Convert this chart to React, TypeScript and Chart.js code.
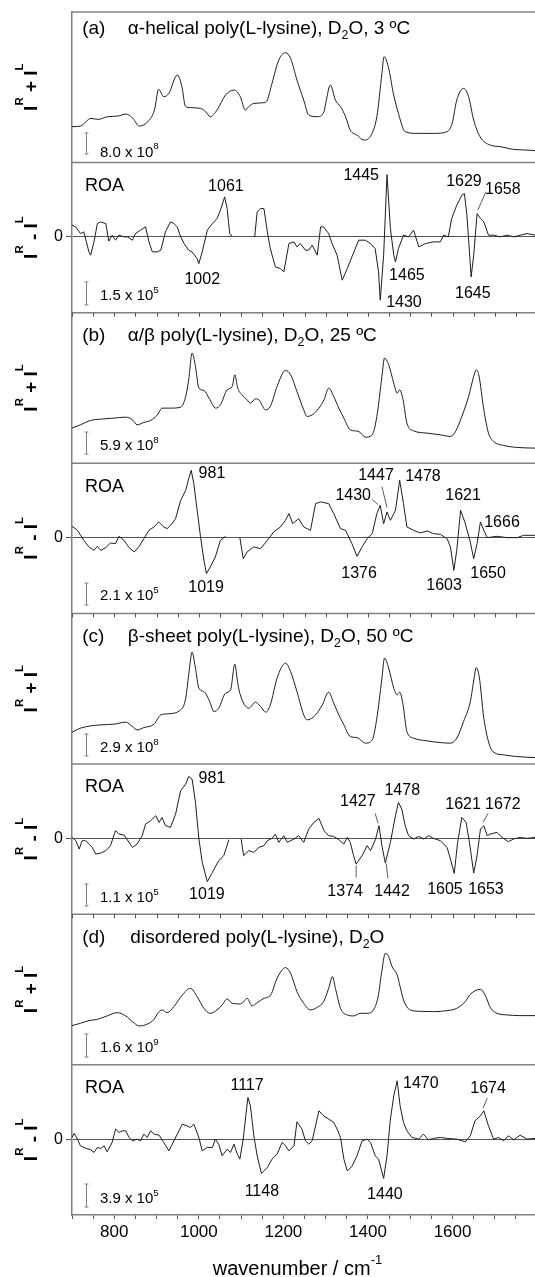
import React, { useEffect, useRef } from 'react';
import { Chart, registerables } from 'chart.js';

Chart.register(...registerables);

const FAMILY = '"Liberation Sans", Arial, Helvetica, sans-serif';
const LINE_COLOR = '#1e1e1e';
const FRAME_COLOR = '#808080';
const ZERO_COLOR = '#555555';
const BAR_COLOR = '#808080';

const X_MIN = 700;
const X_MAX = 1795;
const X_TICKS = [700, 750, 800, 850, 900, 950, 1000, 1050, 1100, 1150, 1200, 1250, 1300, 1350, 1400, 1450, 1500, 1550, 1600, 1650, 1700, 1750];
const X_TICK_LABELS = [800, 1000, 1200, 1400, 1600];
const X_TITLE = 'wavenumber / cm^{-1}';

const RAMAN_MAX = 150.375;
const ROA_MAX = 74.5;
const ROA_MIN = -75.875;

// Raman spectra (I^R + I^L), arbitrary units
const RAMAN_A: [number, number][] = [[700,35.7],[720,36.3],[745,44],[761,43],[785,45.7],[808,46.3],[828,48.3],[844,44],[859,36.3],[879,40.7],[895,52.3],[905,73],[917,65.7],[929,69],[949,87.3],[960,75.7],[968,56.3],[980,54.7],[1004,54],[1016,50.7],[1027,45.7],[1043,52.3],[1063,67.3],[1083,72.3],[1098,65.7],[1110,52.3],[1118,55.7],[1130,59],[1154,59.7],[1162,62.3],[1173,79],[1189,102.3],[1205,109.7],[1217,104],[1232,82.3],[1248,62.3],[1260,47.3],[1280,45.7],[1296,50.7],[1300,59],[1311,77.3],[1323,62.3],[1335,55.7],[1347,45.7],[1358,32.3],[1374,27.3],[1390,22.3],[1405,25.7],[1421,45.7],[1433,89],[1438,105.7],[1448,95.7],[1460,69],[1472,49],[1488,30.7],[1515,29],[1555,29],[1587,30.7],[1599,39],[1610,62.3],[1626,74],[1638,65.7],[1650,42.3],[1665,25.7],[1689,17.3],[1713,15.7],[1744,13],[1776,12.3],[1795,11.7]];
const RAMAN_B: [number, number][] = [[700,35],[720,38.3],[744,42.7],[768,44],[799,45],[827,46],[843,43.3],[854,38.3],[870,40.7],[886,42.7],[902,48.3],[913,55],[933,55],[957,56],[969,66.7],[976,83.3],[984,110],[992,96.7],[1000,75],[1012,72.7],[1024,65],[1040,55],[1051,58.3],[1067,73.3],[1079,76.7],[1085,88.3],[1092,75],[1102,68.3],[1114,63.3],[1122,60],[1134,64.3],[1142,63.3],[1158,53.3],[1169,56.7],[1185,76.7],[1205,92.7],[1217,88.3],[1232,71.7],[1248,53.3],[1256,46.7],[1268,48.3],[1284,55],[1296,63.3],[1307,75],[1319,66.7],[1331,55],[1343,45],[1358,33.3],[1378,31.7],[1394,26],[1410,28.3],[1421,46.7],[1433,86.7],[1439,105],[1449,98.3],[1461,80],[1469,70],[1475,73.3],[1483,63.3],[1492,40],[1508,32.3],[1540,30],[1571,28.3],[1595,26.7],[1607,31.7],[1622,46.7],[1638,66.7],[1650,86.7],[1656,93.3],[1662,88.3],[1674,53.3],[1685,30],[1697,21.7],[1721,17.7],[1752,15.7],[1795,15]];
const RAMAN_C: [number, number][] = [[700,31.7],[720,35.7],[744,38],[768,39],[799,39.7],[827,41.7],[843,37.3],[854,34],[870,36.3],[894,39.7],[910,49],[925,50],[957,54],[969,65.7],[976,89],[984,111.7],[992,95.7],[1000,75.7],[1012,72.3],[1024,64],[1036,52.3],[1047,55.7],[1063,70.7],[1075,74],[1085,99.7],[1092,80.7],[1098,69],[1118,55.7],[1134,61.7],[1146,57.3],[1158,51.7],[1169,59],[1185,85.7],[1205,100.7],[1217,92.3],[1232,72.3],[1248,49],[1256,44],[1276,49],[1292,59],[1307,71.7],[1319,60.7],[1331,49],[1343,39],[1358,27.3],[1374,26.3],[1394,20.7],[1410,24],[1421,45.7],[1433,85.7],[1439,105.7],[1449,95.7],[1461,75.7],[1469,69],[1475,71.7],[1483,59],[1492,32.3],[1508,25.7],[1540,23],[1571,21.3],[1595,20.7],[1610,25.7],[1626,42.3],[1642,62.3],[1651,85.7],[1656,96.3],[1663,87.3],[1674,45.7],[1686,20.7],[1697,11.7],[1721,9],[1752,7.3],[1795,6.3]];
const RAMAN_D: [number, number][] = [[700,39],[720,41.3],[740,44],[760,45.3],[783,48.7],[807,52],[827,48.7],[843,43],[859,38.7],[879,40.7],[894,45.3],[904,52],[913,54.7],[925,52],[941,58],[961,69.7],[980,76.3],[996,68],[1012,56.3],[1027,51.3],[1043,54.7],[1055,59.7],[1067,65.7],[1079,61.3],[1098,60.7],[1106,63],[1114,66.3],[1126,58.7],[1138,62],[1154,66.3],[1170,69.7],[1185,86.3],[1205,97],[1217,91.3],[1232,73],[1248,61.3],[1264,54.7],[1280,57.3],[1295,63],[1307,76.3],[1316,88],[1323,76.3],[1335,56.3],[1351,49.7],[1366,48.7],[1382,51.3],[1398,51.3],[1413,54.7],[1424,68],[1432,91.3],[1441,111.3],[1449,108],[1457,98],[1469,89.7],[1476,78],[1484,64.7],[1500,54.7],[1524,53.3],[1555,53],[1587,54],[1610,56.3],[1630,63],[1642,70.3],[1666,75.3],[1677,69.7],[1689,57.3],[1705,51.3],[1729,49.7],[1760,49],[1795,49]];

// ROA spectra (I^R - I^L), arbitrary units; null = removed region
const ROA_A: [number, number | null][] = [[700,11.7],[709,10],[720,3.3],[728,5],[740,-15],[744,-18.3],[752,-5],[760,13.3],[768,15],[780,13.3],[787,-4.3],[795,1.7],[803,-3.3],[811,1.7],[823,0],[831,0],[843,-3.3],[850,3.3],[862,6.7],[874,10],[882,-5],[890,-15],[902,-15],[910,-13.3],[921,5],[933,15],[941,13.3],[949,10],[957,0],[965,-6.7],[976,-13.3],[984,-15],[996,-21.7],[1000,-26.7],[1008,-15],[1020,6.7],[1032,13.3],[1043,18.3],[1051,26.7],[1061,40],[1067,28.3],[1073,3.3],[1079,0.7],[1100,null],[1132,0],[1138,25],[1146,28.3],[1154,28.3],[1162,5],[1169,-11.7],[1181,-30],[1193,-31.7],[1201,-35],[1213,-6.7],[1225,-5],[1232,-10],[1240,-6.7],[1252,-13.3],[1260,-13.3],[1268,-8.3],[1280,-18.3],[1288,10],[1295,10],[1307,3.3],[1315,-6.7],[1327,-18.3],[1339,-43.3],[1351,-31.7],[1362,-20],[1378,-3.3],[1394,-3.3],[1406,-6.7],[1417,-11.7],[1425,-35],[1429,-63.3],[1437,-18.3],[1445,62.3],[1453,8.3],[1461,-18.3],[1465,-25],[1472,-11.7],[1484,1.7],[1496,0],[1508,6.7],[1520,-10],[1536,-6.7],[1555,-5],[1571,-5],[1579,1.7],[1590,0],[1598,18.3],[1610,31.7],[1622,41.7],[1628,43.3],[1634,21.7],[1644,-40],[1650,-18.3],[1658,23.3],[1666,18.3],[1674,15],[1685,1.7],[1697,1.7],[1713,0],[1729,1.7],[1745,0],[1760,1.7],[1776,3.3],[1795,1.7]];
const ROA_B: [number, number | null][] = [[700,11.3],[713,7.3],[728,-2.7],[740,-9.3],[752,-12.7],[760,-8.7],[768,-12.7],[780,-10],[791,-5.3],[803,-6],[811,1.3],[823,-2.7],[835,-10],[847,-14.3],[858,-9.3],[870,-1],[882,7.3],[894,10.7],[905,15.7],[917,10.7],[925,9],[937,14],[945,19],[957,37.3],[969,47.3],[976,59],[982,67.3],[988,54],[996,27.3],[1004,0.7],[1012,-22.7],[1018,-36],[1027,-29.3],[1039,-19.3],[1051,-2.7],[1063,1.3],[1080,null],[1097,0],[1105,-21],[1114,-14.3],[1130,-9.3],[1146,-11],[1162,-2.7],[1177,5.7],[1193,10.7],[1205,17.3],[1213,24],[1222,14],[1236,19],[1248,10.7],[1264,7.3],[1276,34],[1288,35.7],[1307,34],[1319,24],[1335,9],[1347,7.3],[1362,-6],[1374,-18.7],[1386,-9.3],[1398,-1],[1410,4],[1421,24],[1429,32.3],[1437,14],[1445,25.7],[1453,17.3],[1465,27.3],[1475,57.3],[1484,34],[1492,10.7],[1508,7.3],[1524,4.7],[1540,6.7],[1555,4],[1571,3.3],[1587,-1],[1595,-9.3],[1603,-32.7],[1610,-12.7],[1619,27.3],[1629,15.7],[1641,-2.7],[1650,-21],[1658,-6],[1666,15.7],[1674,7.3],[1682,0],[1705,1.3],[1729,0],[1753,0],[1768,2.3],[1795,2.3]];
const ROA_C: [number, number | null][] = [[700,1],[709,-2.3],[717,-10.7],[724,-2.3],[732,-2.3],[740,-5.7],[748,-9],[756,-15.7],[768,-14.7],[780,-12.3],[791,-7.3],[803,7.7],[811,4.3],[823,3.3],[835,-4],[843,-9],[854,-5.7],[866,2.7],[874,14.3],[886,17.7],[898,22.7],[906,16],[913,21],[921,12.7],[933,11],[945,24.3],[957,47.7],[969,54.3],[976,62],[984,59.3],[992,36],[1000,0],[1008,-24],[1020,-43.3],[1032,-34],[1047,-22.3],[1059,-17.3],[1071,-1.3],[1085,null],[1100,-0.7],[1106,-17.3],[1118,-12.3],[1130,-14],[1142,-9],[1154,-7.3],[1162,-2.3],[1173,0],[1181,4.3],[1189,-4],[1201,2.7],[1209,-4],[1225,-0.7],[1236,2.7],[1248,-4],[1260,9.3],[1272,16],[1284,20],[1296,7.7],[1307,2.7],[1319,2],[1331,-1.3],[1343,-5.7],[1351,1],[1358,-4],[1366,-17.3],[1372,-25.7],[1386,-17.3],[1398,-7.3],[1406,-12.3],[1418,-0.7],[1426,12.7],[1433,-7.3],[1441,-24.7],[1453,-4],[1465,22.7],[1472,36],[1480,29.3],[1488,12.7],[1496,2.7],[1508,-0.7],[1520,2],[1532,-0.7],[1543,2.7],[1555,0],[1571,-2.3],[1587,-9],[1595,-20.7],[1604,-35],[1612,-4],[1622,21],[1632,16],[1640,-4],[1650,-34.7],[1658,-17.3],[1666,9.3],[1674,12.7],[1682,2.7],[1689,4.3],[1705,6],[1717,1],[1732,-3.3],[1744,-0.7],[1760,1],[1776,0],[1795,1]];
const ROA_D: [number, number | null][] = [[700,1.7],[705,5.7],[713,0],[720,-6.7],[732,-9],[744,-10.7],[752,-13.3],[760,-8.3],[768,-9.3],[776,-6.7],[783,-12.7],[795,-3.3],[803,10],[811,6.7],[819,8.3],[827,8.3],[835,1.7],[843,-1.7],[854,0],[862,-1.7],[870,5],[878,1.7],[886,8.3],[894,5],[906,4],[917,-3.3],[929,-11.7],[941,-1.7],[949,5],[961,15],[972,13.3],[980,11.7],[988,15],[1000,1.7],[1008,-11.7],[1020,-8.3],[1032,-8.3],[1039,0],[1047,-5],[1055,-16.7],[1067,-10],[1075,-13.3],[1083,-5],[1091,-15],[1097,-20],[1105,0],[1111,23.3],[1116,41.7],[1122,33.3],[1130,3.3],[1138,-16.7],[1148,-34.3],[1162,-28.3],[1173,-20],[1185,-15],[1197,-3.3],[1205,-6.7],[1213,-11.7],[1225,-6.7],[1232,17.3],[1244,10],[1252,-1.7],[1260,-5],[1268,-1.7],[1284,28.3],[1295,23.3],[1307,20],[1319,16.7],[1327,10],[1335,1.7],[1343,-20],[1351,-31.7],[1362,-27.3],[1374,-16.7],[1386,-1.7],[1398,0],[1406,-3.3],[1417,-16.7],[1425,-20],[1437,-39.3],[1445,-16.7],[1453,20],[1461,43.3],[1469,58.3],[1476,33.3],[1484,16.7],[1492,8.3],[1504,1.7],[1520,0],[1531,5],[1543,-0.7],[1555,0.7],[1571,1.7],[1587,0.7],[1610,0],[1630,-2.7],[1642,3.3],[1653,18.3],[1666,23.3],[1674,28.3],[1685,13.3],[1697,0],[1709,1.7],[1721,-1.7],[1732,3.3],[1745,-0.7],[1760,4],[1776,0],[1795,0.7]];

// Panel texts
const PANEL_LETTERS = ['(a)', '(b)', '(c)', '(d)'];
const PANEL_TITLES = ['\u03b1-helical poly(L-lysine), D_{2}O, 3 \u00baC', '\u03b1/\u03b2 poly(L-lysine), D_{2}O, 25 \u00baC', '\u03b2-sheet poly(L-lysine), D_{2}O, 50 \u00baC', 'disordered poly(L-lysine), D_{2}O'];
const RAMAN_SCALE_LABELS = ['8.0 x 10^{8}', '5.9 x 10^{8}', '2.9 x 10^{8}', '1.6 x 10^{9}'];
const ROA_SCALE_LABELS = ['1.5 x 10^{5}', '2.1 x 10^{5}', '1.1 x 10^{5}', '3.9 x 10^{5}'];
const RAMAN_SCALE_BARS: [number, number][] = [[8.4, 29.4], [9.1, 31.1], [7.9, 29.9], [7.6, 30.6]];
const ROA_SCALE_BARS: [number, number][] = [[-68.1, -45.1], [-67.4, -45.4], [-67.6, -45.6], [-67.9, -44.9]];
const RAMAN_TITLE_Y = [135, 129, 128.3, 128];
const RAMAN_SCALE_LABEL_Y = [11, 18.1, 16.9, 17.6];
const ROA_SCALE_LABEL_Y = [-58.1, -57.4, -58.6, -58.9];
const Y_TITLE_RAMAN = 'I^{R} + I^{L}';
const Y_TITLE_ROA = 'I^{R} ~{-} I^{L}';

// ROA band labels: [text, wavenumber, value]
const ROA_A_LABELS: [string, number, number][] = [['1061', 1064, 52], ['1445', 1384, 63], ['1629', 1627, 57], ['1658', 1719, 49], ['1002', 1008, -41], ['1465', 1492, -37], ['1430', 1485, -64], ['1645', 1648, -55]];
const ROA_B_LABELS: [string, number, number][] = [['981', 1031, 65], ['1447', 1419, 63], ['1478', 1530, 62], ['1430', 1365, 43], ['1621', 1625, 43], ['1666', 1717, 16], ['1376', 1379, -35], ['1019', 1017, -49], ['1603', 1580, -47], ['1650', 1684, -35]];
const ROA_C_LABELS: [string, number, number][] = [['981', 1031, 61], ['1427', 1376, 38], ['1478', 1481, 49], ['1621', 1625, 35], ['1672', 1719, 35], ['1374', 1346, -52], ['1442', 1457, -52], ['1605', 1582, -50], ['1653', 1679, -50], ['1019', 1019, -55]];
const ROA_D_LABELS: [string, number, number][] = [['1117', 1114, 55], ['1470', 1525, 57], ['1674', 1684, 52], ['1148', 1149, -51], ['1440', 1440, -54]];
// leader lines: [wn1, v1, wn2, v2]
const ROA_A_LEADERS: [number, number, number, number][] = [[1679, 45, 1660, 27]];
const ROA_B_LEADERS: [number, number, number, number][] = [[1433, 51, 1445, 30], [1410, 38, 1424, 33]];
const ROA_C_LEADERS: [number, number, number, number][] = [[1417, 25, 1424, 15], [1684, 25, 1672, 16], [1372, -27, 1372, -39], [1443, -25, 1447, -40]];
const ROA_D_LEADERS: [number, number, number, number][] = [[1682, 41, 1672, 31]];

const SERIES = [RAMAN_A, ROA_A, RAMAN_B, ROA_B, RAMAN_C, ROA_C, RAMAN_D, ROA_D];
const ROA_LABELS = [ROA_A_LABELS, ROA_B_LABELS, ROA_C_LABELS, ROA_D_LABELS];
const ROA_LEADERS = [ROA_A_LEADERS, ROA_B_LEADERS, ROA_C_LEADERS, ROA_D_LEADERS];

type Seg = { t: string; m: number };
function parseRich(s: string): Seg[] {
  const out: Seg[] = [];
  let buf = '';
  let i = 0;
  while (i < s.length) {
    const c = s[i];
    if ((c === '^' || c === '_' || c === '~') && s[i + 1] === '{') {
      if (buf) { out.push({ t: buf, m: 0 }); buf = ''; }
      const end = s.indexOf('}', i);
      out.push({ t: s.slice(i + 2, end), m: c === '^' ? 1 : c === '_' ? -1 : 2 });
      i = end + 1;
    } else { buf += c; i++; }
  }
  if (buf) out.push({ t: buf, m: 0 });
  return out;
}

function drawRich(ctx: CanvasRenderingContext2D, text: string, x: number, baseline: number, size: number, align: string, opts: any = {}) {
  const segs = parseRich(text);
  const bold = opts.bold ? 'bold ' : '';
  const small = size * (opts.smallScale || 0.65);
  const rise = opts.rise ?? 0.45;
  const font = (m: number) => `${bold}${m === 1 || m === -1 ? small : size}px ${FAMILY}`;
  let w = 0;
  const widths = segs.map((s) => { ctx.font = font(s.m); const ww = ctx.measureText(s.t).width; w += ww; return ww; });
  let cx = align === 'center' ? x - w / 2 : align === 'right' ? x - w : x;
  ctx.textAlign = 'left';
  ctx.textBaseline = 'alphabetic';
  segs.forEach((s, k) => {
    ctx.font = font(s.m);
    const dy = s.m === 1 ? -size * rise : s.m === -1 ? size * 0.25 : s.m === 2 ? size * 0.15 : 0;
    ctx.fillText(s.t, cx, baseline + dy);
    cx += widths[k];
  });
}

const annotationPlugin = {
  id: 'roaAnnotations',
  afterDraw(chart: any) {
    const ctx: CanvasRenderingContext2D = chart.ctx;
    const xs = chart.scales.x;
    const area = chart.chartArea;
    ctx.save();
    // panel separators
    ctx.strokeStyle = FRAME_COLOR;
    ctx.lineWidth = 1.5;
    for (let i = 0; i < 8; i++) {
      const s = chart.scales['y' + i];
      ctx.beginPath();
      ctx.moveTo(area.left, s.top);
      ctx.lineTo(area.right, s.top);
      ctx.stroke();
    }
    // ticks below the upper ROA panels
    ctx.strokeStyle = ZERO_COLOR;
    ctx.lineWidth = 1;
    for (const i of [1, 3, 5]) {
      const s = chart.scales['y' + i];
      for (const v of X_TICKS) {
        const px = Math.round(xs.getPixelForValue(v)) + 0.5;
        ctx.beginPath();
        ctx.moveTo(px, s.bottom);
        ctx.lineTo(px, s.bottom + 4);
        ctx.stroke();
      }
    }
    ctx.fillStyle = '#000';
    const xTitleX = (area.left + area.right) / 2 - 6;
    drawRich(ctx, X_TITLE, xTitleX, 1275, 20, 'center', { rise: 0.55 });

    const drawBar = (ys: any, v0: number, v1: number) => {
      const px = Math.round(xs.getPixelForValue(734)) + 0.5;
      const y0 = ys.getPixelForValue(v0);
      const y1 = ys.getPixelForValue(v1);
      ctx.strokeStyle = BAR_COLOR;
      ctx.lineWidth = 1;
      ctx.beginPath();
      ctx.moveTo(px, y0); ctx.lineTo(px, y1);
      ctx.moveTo(px - 2, y0); ctx.lineTo(px + 2, y0);
      ctx.moveTo(px - 2, y1); ctx.lineTo(px + 2, y1);
      ctx.stroke();
    };

    for (let p = 0; p < 4; p++) {
      const ysR = chart.scales['y' + (2 * p)];
      const ysO = chart.scales['y' + (2 * p + 1)];
      // y titles
      for (const [ys, txt] of [[ysR, Y_TITLE_RAMAN], [ysO, Y_TITLE_ROA]] as any) {
        ctx.save();
        ctx.translate(37, (ys.top + ys.bottom) / 2);
        ctx.rotate(-Math.PI / 2);
        ctx.fillStyle = '#000';
        drawRich(ctx, txt, 0, 0, 19, 'center', { bold: true, rise: 0.72, smallScale: 0.6 });
        ctx.restore();
      }
      // Raman panel title
      ctx.fillStyle = '#000';
      const ty = ysR.getPixelForValue(RAMAN_TITLE_Y[p]) + 19 * 0.36;
      drawRich(ctx, PANEL_LETTERS[p], xs.getPixelForValue(724), ty, 19, 'left');
      drawRich(ctx, PANEL_TITLES[p], xs.getPixelForValue(p === 3 ? 838 : 832), ty, 19, 'left', { rise: 0.45 });
      // scale bars
      drawBar(ysR, RAMAN_SCALE_BARS[p][0], RAMAN_SCALE_BARS[p][1]);
      drawBar(ysO, ROA_SCALE_BARS[p][0], ROA_SCALE_BARS[p][1]);
      ctx.fillStyle = '#000';
      drawRich(ctx, RAMAN_SCALE_LABELS[p], xs.getPixelForValue(766), ysR.getPixelForValue(RAMAN_SCALE_LABEL_Y[p]) + 15 * 0.36, 15, 'left', { rise: 0.5 });
      drawRich(ctx, ROA_SCALE_LABELS[p], xs.getPixelForValue(766), ysO.getPixelForValue(ROA_SCALE_LABEL_Y[p]) + 15 * 0.36, 15, 'left', { rise: 0.5 });
      // ROA heading
      drawRich(ctx, 'ROA', xs.getPixelForValue(731), ysO.getPixelForValue(52.5) + 18 * 0.36, 18, 'left');
      // band labels
      for (const [t, wn, v] of ROA_LABELS[p]) {
        drawRich(ctx, t, xs.getPixelForValue(wn), ysO.getPixelForValue(v) + 16 * 0.36, 16, 'center');
      }
      ctx.strokeStyle = '#333';
      ctx.lineWidth = 0.8;
      for (const [a, b, c, d] of ROA_LEADERS[p]) {
        ctx.beginPath();
        ctx.moveTo(xs.getPixelForValue(a), ysO.getPixelForValue(b));
        ctx.lineTo(xs.getPixelForValue(c), ysO.getPixelForValue(d));
        ctx.stroke();
      }
    }
    ctx.restore();
  },
};

export default function App() {
  const ref = useRef<HTMLCanvasElement | null>(null);
  useEffect(() => {
    if (!ref.current) return;
    Chart.defaults.font.family = FAMILY;
    const scales: any = {
      x: {
        type: 'linear',
        position: 'bottom',
        min: X_MIN,
        max: X_MAX,
        border: { display: true, color: FRAME_COLOR, width: 1.5 },
        grid: { display: true, drawOnChartArea: false, drawTicks: true, tickLength: 4, tickColor: ZERO_COLOR, lineWidth: 1 },
        ticks: {
          autoSkip: false, maxRotation: 0, minRotation: 0, padding: 3, color: '#000',
          font: { size: 17, family: FAMILY },
          callback: (v: any) => (X_TICK_LABELS.includes(Number(v)) ? String(v) : ''),
        },
        afterBuildTicks: (s: any) => { s.ticks = X_TICKS.map((v) => ({ value: v })); },
        afterFit: (s: any) => { s.height = 62; s.paddingLeft = 0; s.paddingRight = 0; },
      },
    };
    for (let i = 7; i >= 0; i--) {
      const isRoa = i % 2 === 1;
      scales['y' + i] = {
        type: 'linear',
        position: 'left',
        stack: 'panels',
        stackWeight: 1,
        min: isRoa ? ROA_MIN : 0,
        max: isRoa ? ROA_MAX : RAMAN_MAX,
        border: { display: true, color: FRAME_COLOR, width: 1.5 },
        grid: isRoa
          ? { display: true, drawOnChartArea: true, color: ZERO_COLOR, lineWidth: 1, drawTicks: true, tickLength: 6, tickColor: ZERO_COLOR }
          : { display: false },
        ticks: isRoa ? { display: true, color: '#000', padding: 3, font: { size: 16, family: FAMILY } } : { display: false },
        afterBuildTicks: (s: any) => { s.ticks = isRoa ? [{ value: 0 }] : []; },
        afterFit: (s: any) => { s.width = 72; s.paddingTop = 0; s.paddingBottom = 0; },
      };
    }
    const chart = new Chart(ref.current, {
      type: 'line',
      data: {
        datasets: SERIES.map((s, i) => ({
          data: s.map(([x, y]) => ({ x, y })),
          xAxisID: 'x',
          yAxisID: 'y' + i,
          borderColor: LINE_COLOR,
          borderWidth: 1,
          pointRadius: 0,
          fill: false,
          spanGaps: false,
          tension: 0,
          cubicInterpolationMode: i % 2 === 0 ? 'monotone' : 'default',
        })) as any,
      },
      options: {
        responsive: false,
        animation: false,
        devicePixelRatio: 1,
        events: [],
        layout: { padding: { top: 12, left: 0, right: 0, bottom: 0 } },
        plugins: { legend: { display: false }, tooltip: { enabled: false }, title: { display: false } },
        scales,
      } as any,
      plugins: [annotationPlugin],
    });
    return () => chart.destroy();
  }, []);
  return (
    <div style={{ position: 'absolute', left: 0, top: 0, width: 535, height: 1277, overflow: 'hidden', background: '#fff' }}>
      <canvas ref={ref} width={535} height={1277} style={{ display: 'block', width: 535, height: 1277 }} />
    </div>
  );
}
